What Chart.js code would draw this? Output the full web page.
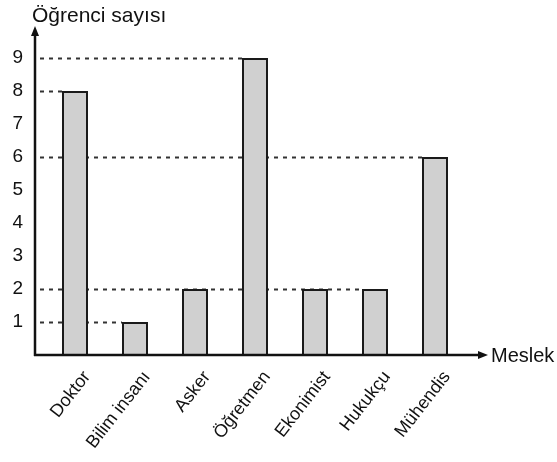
<!DOCTYPE html>
<html>
<head>
<meta charset="utf-8">
<script src="https://cdn.jsdelivr.net/npm/chart.js@4.4.0/dist/chart.umd.min.js"></script>
<style>
  body { margin: 0; background: #fff; }
  canvas { display: block; }
</style>
</head>
<body>
<canvas id="grafik" width="557" height="462"></canvas>
<script>
// veriler
const meslekler = ['Doktor', 'Bilim insanı', 'Asker', 'Öğretmen', 'Ekonimist', 'Hukukçu', 'Mühendis'];
const ogrenciSayisi = [8, 1, 2, 9, 2, 2, 6];
const yEtiketleri = [1, 2, 3, 4, 5, 6, 7, 8, 9];

const yaziTipi = '"Liberation Sans", Arial, sans-serif';

// eksen oklari, basliklar ve kesikli cizgiler
const eksenCizimi = {
    id: 'eksenCizimi',
    beforeDatasetsDraw(chart) {
        const c = chart.ctx;
        const y = chart.scales.y;
        const meta = chart.getDatasetMeta(0);
        const eksenX = chart.chartArea.left - 10;

        // her deger icin en sagdaki cubuga kadar kesikli cizgi
        const enSag = {};
        meta.data.forEach((bar, i) => {
            const v = ogrenciSayisi[i];
            const sol = bar.x - bar.width / 2;
            if (!(v in enSag) || sol > enSag[v]) enSag[v] = sol;
        });
        c.save();
        c.strokeStyle = '#333';
        c.lineWidth = 2;
        c.setLineDash([4, 5]);
        Object.keys(enSag).forEach(v => {
            const py = Math.round(y.getPixelForValue(Number(v))) + 0.5;
            c.beginPath();
            c.moveTo(eksenX + 5, py);
            c.lineTo(enSag[v], py);
            c.stroke();
        });
        c.restore();
    },
    afterDatasetsDraw(chart) {
        const c = chart.ctx;
        const y = chart.scales.y;
        const eksenX = chart.chartArea.left - 10;
        const tabanY = y.getPixelForValue(0);

        c.save();
        c.strokeStyle = '#111';
        c.fillStyle = '#111';
        c.lineWidth = 2.5;
        c.setLineDash([]);

        // y ekseni
        c.beginPath();
        c.moveTo(eksenX, tabanY + 1);
        c.lineTo(eksenX, 34);
        c.stroke();
        c.beginPath();
        c.moveTo(eksenX, 26);
        c.lineTo(eksenX - 4, 36);
        c.lineTo(eksenX + 4, 36);
        c.closePath();
        c.fill();

        // x ekseni
        c.beginPath();
        c.moveTo(eksenX - 1, tabanY);
        c.lineTo(480, tabanY);
        c.stroke();
        c.beginPath();
        c.moveTo(488, tabanY);
        c.lineTo(478, tabanY - 4);
        c.lineTo(478, tabanY + 4);
        c.closePath();
        c.fill();

        // eksen basliklari
        c.font = '21px ' + yaziTipi;
        c.textBaseline = 'alphabetic';
        c.textAlign = 'left';
        c.fillText('Öğrenci sayısı', 32, 22);
        c.font = '20px ' + yaziTipi;
        c.textBaseline = 'middle';
        c.fillText('Meslek', 491, tabanY + 1);
        c.restore();
    }
};

const ctx = document.getElementById('grafik').getContext('2d');
const grafik = new Chart(ctx, {
    type: 'bar',
    data: {
        labels: meslekler,
        datasets: [{
            data: ogrenciSayisi,
            backgroundColor: '#d0d0d0',
            borderColor: '#1a1a1a',
            borderWidth: 2,
            borderSkipped: 'bottom',
            categoryPercentage: 1,
            barPercentage: 0.433
        }]
    },
    options: {
        responsive: false,
        animation: false,
        layout: {
            padding: { top: 58, right: 92, bottom: 0, left: 0 }
        },
        plugins: {
            legend: { display: false },
            tooltip: { enabled: false }
        },
        scales: {
            x: {
                grid: { display: false, drawTicks: false },
                border: { display: false },
                afterFit(scale) { scale.height = 107; },
                ticks: {
                    autoSkip: false,
                    minRotation: 52,
                    maxRotation: 52,
                    padding: 12,
                    labelOffset: 12,
                    color: '#111',
                    font: { family: yaziTipi, size: 18 }
                }
            },
            y: {
                min: 0,
                max: 9,
                grid: { display: false, drawTicks: false },
                border: { display: false },
                afterFit(scale) { scale.width = 45; },
                afterBuildTicks(scale) {
                    scale.ticks = [0].concat(yEtiketleri).map(v => ({ value: v }));
                },
                ticks: {
                    padding: 22,
                    color: '#111',
                    font: { family: yaziTipi, size: 19 },
                    callback: v => (yEtiketleri.includes(v) ? String(v) : '')
                }
            }
        }
    },
    plugins: [eksenCizimi]
});
</script>
</body>
</html>
